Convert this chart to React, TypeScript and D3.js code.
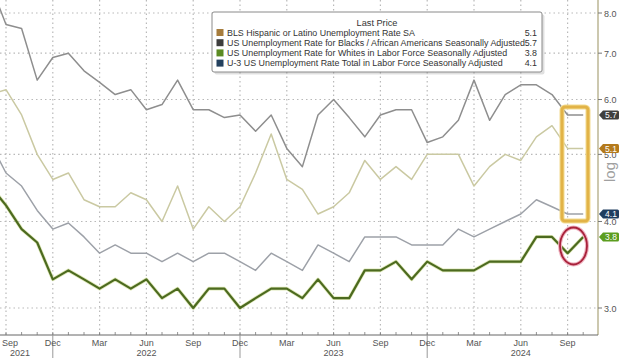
import React from "react";
import * as d3 from "d3";

// Months Aug 2021 .. Oct 2024 (index 0 = Aug 2021)
const monthNames = ["Jan","Feb","Mar","Apr","May","Jun","Jul","Aug","Sep","Oct","Nov","Dec"];
const startMonth = 7; // Aug (0-based)
const nMonths = 39;

const blackRate = [8.8,7.7,7.6,6.4,6.9, 7.0,6.6,6.35,6.1,6.2,5.8,5.9,6.4,5.8,5.8,5.65,5.7, 5.4,5.7,5.1,4.8,5.7,6.0,5.65,5.3,5.7,5.8,5.8,5.2, 5.3,5.6,6.4,5.6,6.1,6.3,6.3,6.1,5.7,5.7];
const hispanicRate = [6.1,6.2,5.7,5.0,4.6, 4.7,4.3,4.2,4.2,4.4,4.3,4.0,4.5,3.9,4.2,4.0,4.2, 4.7,5.35,4.6,4.45,4.1,4.2,4.4,4.9,4.6,4.8,4.6,5.0, 5.0,5.0,4.5,4.8,5.0,4.9,5.3,5.5,5.1,5.1];
const totalRate = [5.2,4.7,4.5,4.15,3.9, 3.98,3.8,3.6,3.7,3.6,3.6,3.5,3.6,3.5,3.6,3.6,3.5, 3.4,3.6,3.5,3.4,3.7,3.6,3.5,3.8,3.8,3.8,3.7,3.7, 3.7,3.9,3.8,3.9,4.0,4.1,4.3,4.2,4.1,4.1];
const whiteRate = [4.5,4.22,3.9,3.73,3.3, 3.4,3.3,3.2,3.3,3.2,3.3,3.1,3.2,3.0,3.2,3.2,3.0, 3.1,3.2,3.2,3.1,3.3,3.1,3.1,3.4,3.4,3.5,3.3,3.5, 3.4,3.4,3.4,3.5,3.5,3.5,3.8,3.8,3.6,3.8];

const yTicks = [3, 4, 5, 6, 7, 8];
const yearLabels = [
  { label: "2021", x: 20 },
  { label: "2022", idx: 10 },
  { label: "2023", idx: 22 },
  { label: "2024", idx: 34 },
];

const legendItems = [
  { name: "BLS Hispanic or Latino Unemployment Rate SA", value: "5.1", swatch: "#a67c3c" },
  { name: "US Unemployment Rate for Blacks / African Americans Seasonally Adjusted", value: "5.7", swatch: "#3d3d3d" },
  { name: "US Unemployment Rate for Whites in Labor Force Seasonally Adjusted", value: "3.8", swatch: "#5b8a22" },
  { name: "U-3 US Unemployment Rate Total in Labor Force Seasonally Adjusted", value: "4.1", swatch: "#23405e" },
];

const tags = [
  { value: 5.7, label: "5.7", fill: "#3f3f3f" },
  { value: 5.1, label: "5.1", fill: "#b47a1c" },
  { value: 4.1, label: "4.1", fill: "#1f3d5f" },
  { value: 3.8, label: "3.8", fill: "#5c9d1f" },
];

const W = 620, H = 358;
const axisRight = 598;
const axisBottom = 335;

export default function App() {
  const x = d3.scaleLinear().domain([1, 38]).range([6, 583.2]);
  const y = d3.scaleLog().domain([3, 8]).range([308, 13]);
  const idx = d3.range(nMonths);
  const mLabel = (i: number) => monthNames[(startMonth + i) % 12];
  const line = (vals: number[]) =>
    d3.line<number>().x((_, i) => x(i)).y((v) => y(v))(vals) || "";

  const quarterIdx = idx.filter((i) => ["Sep", "Dec", "Mar", "Jun"].includes(mLabel(i)));
  const decIdx = idx.filter((i) => mLabel(i) === "Dec");

  const tagPath = (cy: number) => {
    const h = 9, x0 = 599, x1 = 603, x2 = 619;
    return `M${x0},${cy} L${x1},${cy - h / 2} L${x2 - 1.5},${cy - h / 2} Q${x2},${cy - h / 2} ${x2},${cy - h / 2 + 1.5} L${x2},${cy + h / 2 - 1.5} Q${x2},${cy + h / 2} ${x2 - 1.5},${cy + h / 2} L${x1},${cy + h / 2} Z`;
  };

  const font = "'Liberation Sans', Arial, sans-serif";

  return (
    <svg width={W} height={H} style={{ position: "fixed", left: 0, top: 0, background: "#fff" }} fontFamily={font}>
      <defs>
        <clipPath id="plot">
          <rect x={0} y={0} width={axisRight} height={axisBottom} />
        </clipPath>
      </defs>
      <rect width={W} height={H} fill="#fff" />
      {/* grid */}
      <g stroke="#b9b9b9" strokeWidth={1.2} strokeDasharray="1.5,3">
        {yTicks.map((t) => (
          <line key={t} x1={0} x2={axisRight} y1={y(t)} y2={y(t)} />
        ))}
        {quarterIdx.map((i) => (
          <line key={i} x1={x(i)} x2={x(i)} y1={0} y2={axisBottom} />
        ))}
      </g>
      {/* series */}
      <g clipPath="url(#plot)" fill="none" strokeLinejoin="round">
        <path d={line(blackRate)} stroke="#8e8e8e" strokeWidth={1.5} />
        <path d={line(hispanicRate)} stroke="#cac9a2" strokeWidth={1.5} />
        <path d={line(totalRate)} stroke="#9da1a8" strokeWidth={1.5} />
        <path d={line(whiteRate)} stroke="#c9d88a" strokeWidth={3.6} opacity={0.6} />
        <path d={line(whiteRate)} stroke="#4c6a1f" strokeWidth={2.2} />
      </g>
      {/* axes */}
      <line x1={axisRight} x2={axisRight} y1={0} y2={axisBottom} stroke="#aaa37a" strokeWidth={1.2} />
      <line x1={0} x2={axisRight} y1={axisBottom} y2={axisBottom} stroke="#666" strokeWidth={1} />
      {idx.map((i) => (
        <line key={i} x1={x(i)} x2={x(i)} y1={axisBottom - 3} y2={axisBottom} stroke="#777" strokeWidth={0.8} />
      ))}
      {decIdx.map((i) => (
        <line key={i} x1={x(i)} x2={x(i)} y1={axisBottom} y2={H} stroke="#999" strokeWidth={1} />
      ))}
      {quarterIdx.map((i, k) => (
        <text key={i} x={k === 0 ? 2 : x(i)} y={346} textAnchor={k === 0 ? "start" : "middle"} fontSize={9} fill="#555">
          {mLabel(i)}
        </text>
      ))}
      {yearLabels.map((yl) => (
        <text key={yl.label} x={yl.x ?? x(yl.idx!)} y={356} textAnchor="middle" fontSize={9} fill="#555">
          {yl.label}
        </text>
      ))}
      {/* y labels */}
      {yTicks.map((t) => (
        <g key={t}>
          <line x1={axisRight} x2={axisRight + 4} y1={y(t)} y2={y(t)} stroke="#777" />
          <text x={604} y={y(t) + 3.5} fontSize={9} fill="#555">
            {t.toFixed(1)}
          </text>
        </g>
      ))}
      <text transform={`translate(615,172) rotate(-90)`} textAnchor="middle" fontSize={15} fill="#a0a0a0">
        log
      </text>
      {/* tags */}
      {tags.map((t) => (
        <g key={t.label}>
          <path d={tagPath(y(t.value))} fill={t.fill} />
          <text x={611} y={y(t.value) + 3.2} textAnchor="middle" fontSize={8.5} fill="#fff">
            {t.label}
          </text>
        </g>
      ))}
      {/* highlight box */}
      <rect x={562} y={107} width={26} height={114} rx={3} fill="none" stroke="#f3dc92" strokeWidth={5} />
      <rect x={562} y={107} width={26} height={114} rx={3} fill="none" stroke="#e2b347" strokeWidth={3} />
      {/* red ellipse */}
      <ellipse cx={573.5} cy={246} rx={13.5} ry={18.5} fill="none" stroke="#efb3c0" strokeWidth={4} />
      <ellipse cx={573.5} cy={246} rx={13.5} ry={18.5} fill="none" stroke="#a8213a" strokeWidth={1.8} />
      {/* legend */}
      <rect x={213} y={13} width={330} height={60} rx={2} fill="#000" opacity={0.12} transform="translate(1.5,1.5)" />
      <rect x={212} y={12} width={330} height={60} rx={2} fill="#fff" stroke="#8a8a8a" strokeWidth={1} />
      <text x={377} y={26} textAnchor="middle" fontSize={9.2} fill="#333">
        Last Price
      </text>
      {legendItems.map((it, i) => (
        <g key={it.name}>
          <rect x={216.5} y={29 + i * 10.2} width={7} height={7} fill={it.swatch} />
          <text x={227} y={35.8 + i * 10.2} fontSize={8.9} fill="#333">
            {it.name}
          </text>
          <text x={537} y={35.8 + i * 10.2} textAnchor="end" fontSize={8.9} fill="#333">
            {it.value}
          </text>
        </g>
      ))}
    </svg>
  );
}
